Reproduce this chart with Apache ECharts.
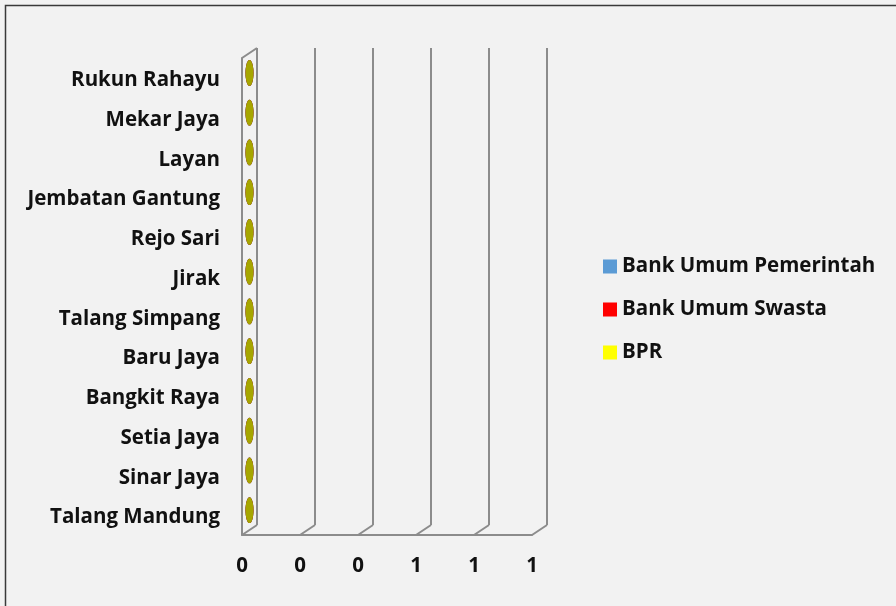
<!DOCTYPE html>
<html>
<head>
<meta charset="utf-8">
<script src="https://cdn.jsdelivr.net/npm/echarts@6/dist/echarts.min.js"></script>
<style>
  html, body, #main { width: 100%; height: 100%; margin: 0; background: #f2f2f2; }
</style>
</head>
<body>
<div id="main"></div>
<script>
  // kelurahan, from bottom to top
  var categories = ['Talang Mandung', 'Sinar Jaya', 'Setia Jaya', 'Bangkit Raya', 'Baru Jaya',
    'Talang Simpang', 'Jirak', 'Rejo Sari', 'Jembatan Gantung', 'Layan', 'Mekar Jaya', 'Rukun Rahayu'];
  var bankPemerintah = [0, 0, 0, 0, 0, 0, 0, 0, 0, 0, 0, 0];
  var bankSwasta     = [0, 0, 0, 0, 0, 0, 0, 0, 0, 0, 0, 0];
  var bpr            = [0, 0, 0, 0, 0, 0, 0, 0, 0, 0, 0, 0];
  var xTicks = [0, 0.2, 0.4, 0.6, 0.8, 1];

  var FONT = '"Open Sans", sans-serif';
  var FSIZE = 20.5;
  var WALL = '#8c8c8c';
  var DX = 15, DY = -10; // depth of the 3d box

  var chart = echarts.init(document.getElementById('main'));

  // stacked cylinders: body from the previous stack top to this one, with a cap ellipse
  function cylinder(values, below, body, cap) {
    return function (params, api) {
      var i = params.dataIndex;
      var base = below.reduce(function (s, arr) { return s + arr[i]; }, 0);
      var p0 = api.coord([base, i]);
      var p1 = api.coord([base + values[i], i]);
      var h = api.size([0, 1])[1] * 0.65;
      var children = [];
      if (p1[0] > p0[0]) {
        children.push({
          type: 'rect',
          shape: { x: p0[0] + DX / 2, y: p0[1] + DY / 2 - h / 2, width: p1[0] - p0[0], height: h },
          style: { fill: body, lineWidth: 0 }
        });
      }
      children.push({
        type: 'ellipse',
        shape: { cx: p1[0] + DX / 2, cy: p1[1] + DY / 2, rx: 4, ry: h / 2 },
        style: { fill: cap, stroke: null, lineWidth: 0 }
      });
      return { type: 'group', children: children };
    };
  }

  chart.setOption({
    backgroundColor: '#f2f2f2',
    animation: false,
    grid: [
      { left: 242, top: 58, width: 290, height: 477 },
      { left: 242 + DX, top: 58 + DY, width: 290, height: 477 }
    ],
    legend: {
      orient: 'vertical',
      left: 598,
      top: 251,
      itemWidth: 14,
      itemHeight: 14,
      itemGap: 22,
      icon: 'rect',
      textStyle: { fontFamily: FONT, fontWeight: 'bold', fontSize: FSIZE, color: '#111' },
      data: ['Bank Umum Pemerintah', 'Bank Umum Swasta', 'BPR']
    },
    xAxis: [
      {
        gridIndex: 0, type: 'value', min: 0, max: 1, interval: 0.2,
        axisLine: { show: true, lineStyle: { color: WALL, width: 2 } },
        axisTick: { show: false },
        splitLine: { show: false },
        axisLabel: {
          margin: 21, fontFamily: FONT, fontWeight: 'bold', fontSize: FSIZE, color: '#111',
          formatter: function (v) { return Math.round(v); }
        }
      },
      {
        gridIndex: 1, type: 'value', min: 0, max: 1, interval: 0.2,
        axisLine: { show: false }, axisTick: { show: false }, axisLabel: { show: false },
        splitLine: { show: true, lineStyle: { color: WALL, width: 2 } }
      }
    ],
    yAxis: [
      {
        gridIndex: 0, type: 'category', data: categories,
        axisLine: { show: true, lineStyle: { color: WALL, width: 2 } },
        axisTick: { show: false },
        axisLabel: {
          margin: 22,
          formatter: function (v) { return '{c|' + v + '}'; },
          rich: {
            c: { padding: [5, 0, 0, 0], fontFamily: FONT, fontWeight: 'bold', fontSize: FSIZE, color: '#111' }
          }
        }
      },
      { gridIndex: 1, type: 'category', data: categories, show: false }
    ],
    series: [
      {
        // floor and side wall diagonals
        type: 'custom', xAxisIndex: 0, yAxisIndex: 0, silent: true,
        data: xTicks,
        renderItem: function (params, api) {
          var cs = params.coordSys;
          var x = api.coord([xTicks[params.dataIndex], 0])[0];
          var yb = cs.y + cs.height;
          var lines = [{
            type: 'line',
            shape: { x1: x, y1: yb, x2: x + DX, y2: yb + DY },
            style: { stroke: WALL, lineWidth: 2 }
          }];
          if (params.dataIndex === 0) {
            lines.push({
              type: 'line',
              shape: { x1: x, y1: cs.y, x2: x + DX, y2: cs.y + DY },
              style: { stroke: WALL, lineWidth: 2 }
            });
          }
          return { type: 'group', children: lines };
        },
        z: 1
      },
      {
        name: 'Bank Umum Pemerintah', type: 'custom', xAxisIndex: 0, yAxisIndex: 0,
        itemStyle: { color: '#5b9bd5' }, data: bankPemerintah,
        renderItem: cylinder(bankPemerintah, [], '#5b9bd5', '#3f77a8'), z: 2
      },
      {
        name: 'Bank Umum Swasta', type: 'custom', xAxisIndex: 0, yAxisIndex: 0,
        itemStyle: { color: '#ff0000' }, data: bankSwasta,
        renderItem: cylinder(bankSwasta, [bankPemerintah], '#ff0000', '#b30000'), z: 3
      },
      {
        name: 'BPR', type: 'custom', xAxisIndex: 0, yAxisIndex: 0,
        itemStyle: { color: '#ffff00' }, data: bpr,
        renderItem: cylinder(bpr, [bankPemerintah, bankSwasta], '#ffff00', '#a6a600'), z: 4
      }
    ],
    graphic: [{
      type: 'rect', silent: true,
      shape: { x: 5.5, y: 5.5, width: 900, height: 700 },
      style: { fill: null, stroke: '#3a3a3a', lineWidth: 1.5 }
    }]
  });
</script>
</body>
</html>
